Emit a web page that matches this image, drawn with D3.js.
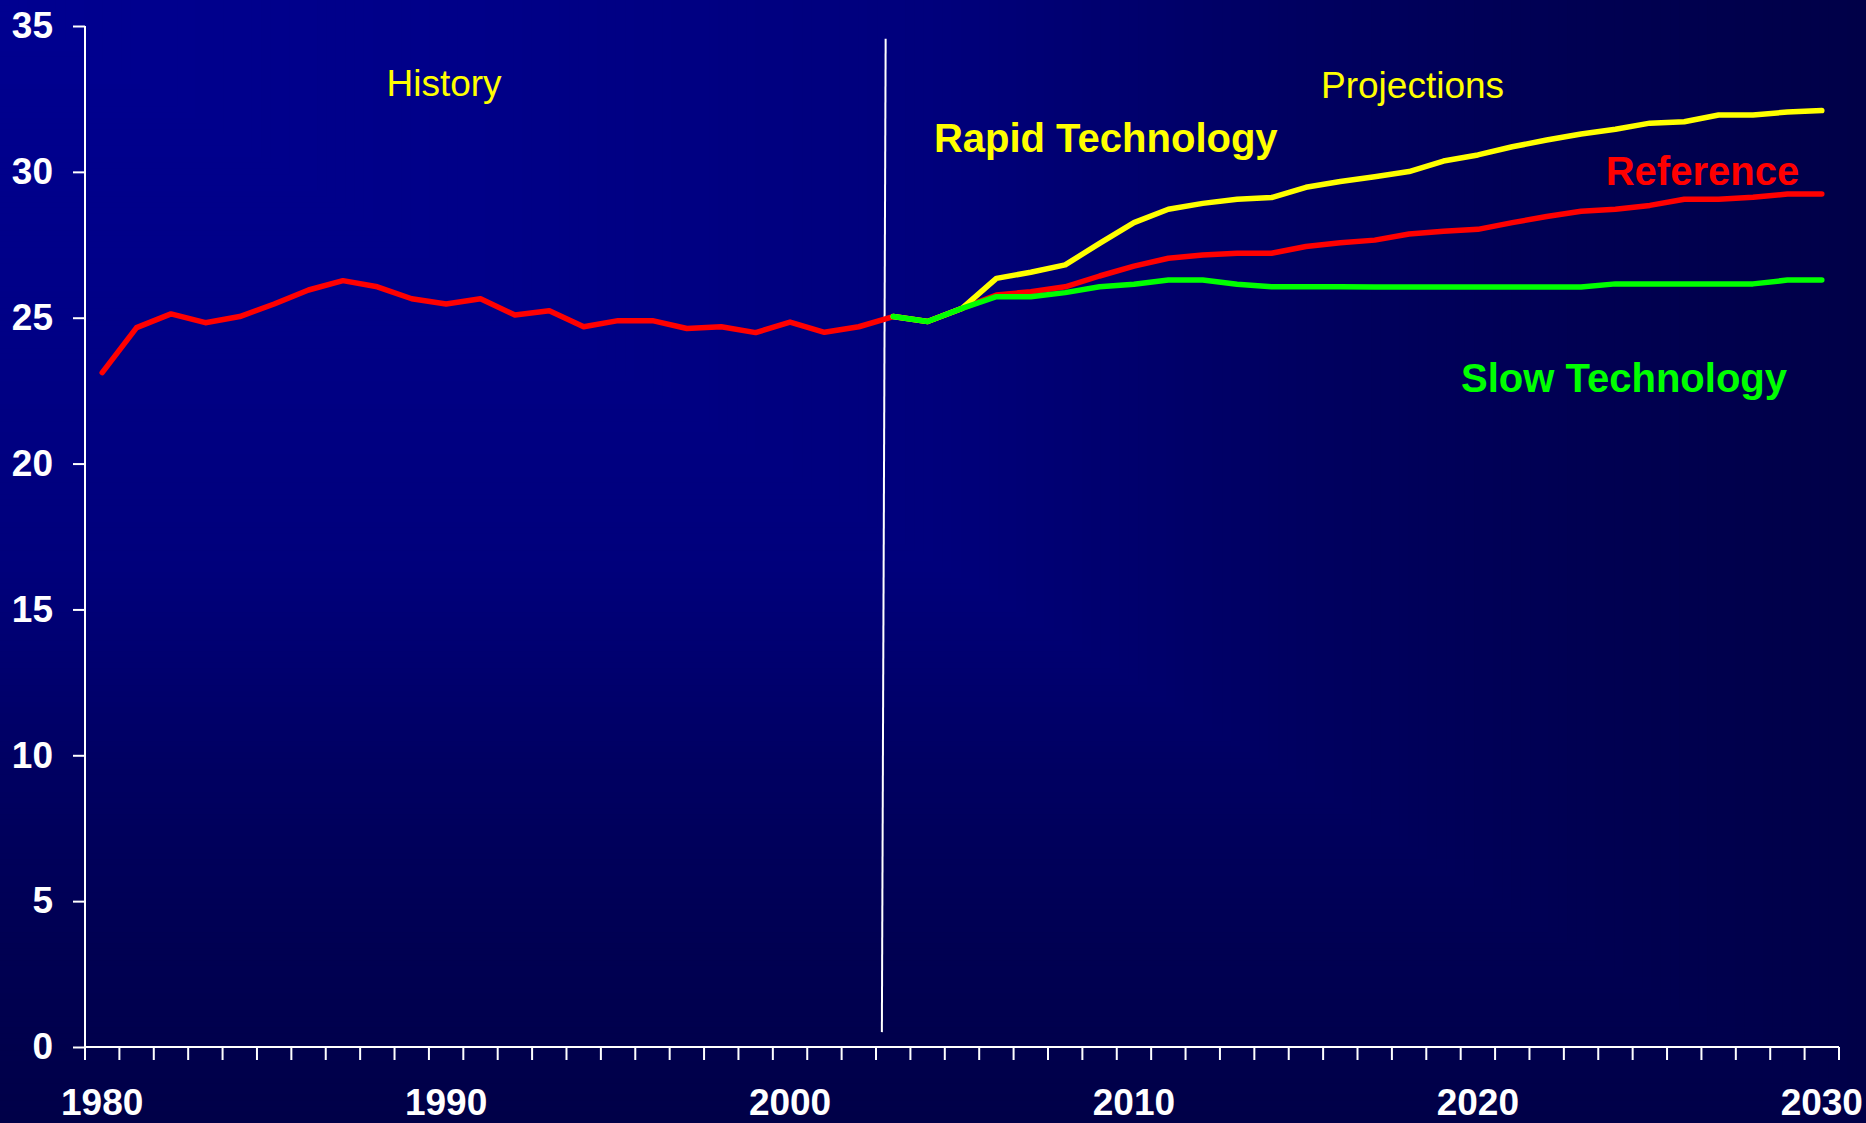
<!DOCTYPE html>
<html>
<head>
<meta charset="utf-8">
<script src="https://cdn.jsdelivr.net/npm/d3@7"></script>
<style>
  html, body { margin: 0; padding: 0; background: #000060; }
  svg { display: block; }
  text { font-family: "Liberation Sans", Arial, Helvetica, sans-serif; }
</style>
</head>
<body>
<svg id="chart" width="1866" height="1123"></svg>
<script>
// ---------- data ----------
const years = [1980,1981,1982,1983,1984,1985,1986,1987,1988,1989,
               1990,1991,1992,1993,1994,1995,1996,1997,1998,1999,
               2000,2001,2002,2003,2004,2005,2006,2007,2008,2009,
               2010,2011,2012,2013,2014,2015,2016,2017,2018,2019,
               2020,2021,2022,2023,2024,2025,2026,2027,2028,2029,2030];

const referenceValues = [23.12,24.66,25.13,24.83,25.04,25.47,25.95,26.27,26.06,25.65,
                         25.47,25.65,25.09,25.24,24.69,24.90,24.90,24.63,24.69,24.49,
                         24.85,24.50,24.69,25.04,24.87,25.32,25.78,25.89,26.06,26.43,
                         26.77,27.04,27.15,27.21,27.21,27.44,27.57,27.66,27.87,27.96,
                         28.03,28.26,28.47,28.65,28.72,28.85,29.06,29.06,29.13,29.24,29.24];

const projectionYears = [2003,2004,2005,2006,2007,2008,2009,2010,2011,2012,2013,2014,2015,2016,
                         2017,2018,2019,2020,2021,2022,2023,2024,2025,2026,2027,2028,2029,2030];

const rapidValues = [25.04,24.87,25.32,26.35,26.56,26.81,27.55,28.26,28.72,28.92,29.06,29.12,29.47,29.67,
                     29.83,30.01,30.37,30.58,30.86,31.09,31.30,31.46,31.67,31.72,31.95,31.95,32.05,32.10];

const slowValues = [25.04,24.87,25.32,25.72,25.72,25.86,26.06,26.15,26.29,26.29,26.15,26.06,26.06,26.06,
                    26.05,26.05,26.05,26.05,26.05,26.05,26.05,26.16,26.16,26.16,26.16,26.16,26.29,26.29];

const yTicks = [0,5,10,15,20,25,30,35];
const xTickLabels = [1980,1990,2000,2010,2020,2030];

const seriesNames = ["Reference","Rapid Technology","Slow Technology"];
const seriesColors = ["#ff0000","#ffff00","#00ff00"];

// annotation texts (year / value anchor)
const sectionLabels = ["History","Projections"];
const sectionYears = [1989.94, 2018.1];
const sectionValues = [32.6, 32.53];
const seriesLabelYears = [2026.53, 2009.18, 2024.25];
const seriesLabelValues = [29.55, 30.68, 22.45];

const dividerYears = [2002.78, 2002.67];
const dividerValues = [34.56, 0.51];

// ---------- layout ----------
const W = 1866, H = 1123;
const margin = {left: 85, right: 27, top: 26, bottom: 76};
const svg = d3.select("#chart");

// background: rectangular gradient from top-left corner
const bgColor = d3.scaleLinear()
  .domain([0, 0.25, 0.5, 0.7, 0.85, 1])
  .range(["#000090","#000088","#00007c","#000060","#000052","#000048"]);
const bgSteps = d3.range(1, 0, -0.005);
svg.append("g").selectAll("rect").data(bgSteps).join("rect")
  .attr("x", 0).attr("y", 0)
  .attr("width", d => d * W).attr("height", d => d * H)
  .attr("fill", d => bgColor(d));

const xBand = d3.scaleBand().domain(years).range([margin.left, W - margin.right]).padding(0);
const bw = xBand.bandwidth();
const x = d3.scaleLinear().domain([1980, 2030]).range([xBand(1980) + bw / 2, xBand(2030) + bw / 2]);
const y = d3.scaleLinear().domain([0, 35]).range([H - margin.bottom, margin.top]);

// axes
const axisColor = "#ffffff";
// y axis
const yAxis = svg.append("g").attr("transform", `translate(${margin.left},0)`)
  .call(d3.axisLeft(y).tickValues(yTicks).tickSize(12).tickPadding(20).tickFormat(d3.format("d")));
yAxis.select(".domain").attr("stroke", axisColor).attr("stroke-width", 2).attr("d", `M0,${y(35)}V${y(0)}`);
yAxis.selectAll(".tick line").attr("stroke", axisColor).attr("stroke-width", 2);
yAxis.selectAll(".tick text").attr("fill", "#ffffff").attr("font-size", 37).attr("font-weight", "bold")
  .attr("font-family", '"Liberation Sans", Arial, sans-serif');

// x axis: ticks at category boundaries
const xAxisG = svg.append("g").attr("transform", `translate(0,${y(0)})`);
xAxisG.append("line").attr("x1", margin.left).attr("x2", W - margin.right)
  .attr("y1", 0).attr("y2", 0).attr("stroke", axisColor).attr("stroke-width", 2);
const boundaries = years.map(d => xBand(d)).concat([xBand(2030) + bw]);
xAxisG.selectAll("line.tk").data(boundaries).join("line").attr("class", "tk")
  .attr("x1", d => d).attr("x2", d => d).attr("y1", 0).attr("y2", 13)
  .attr("stroke", axisColor).attr("stroke-width", 2);
xAxisG.selectAll("text").data(xTickLabels).join("text")
  .attr("x", d => x(d)).attr("y", 68)
  .attr("text-anchor", "middle").attr("fill", "#ffffff")
  .attr("font-size", 37).attr("font-weight", "bold").text(d => d);

// divider
svg.append("line")
  .attr("x1", x(dividerYears[0])).attr("y1", y(dividerValues[0]))
  .attr("x2", x(dividerYears[1])).attr("y2", y(dividerValues[1]))
  .attr("stroke", "#ffffff").attr("stroke-width", 2);

// lines
const line = d3.line().x(d => x(d[0])).y(d => y(d[1]));
const seriesData = [
  years.map((yr, i) => [yr, referenceValues[i]]),
  projectionYears.map((yr, i) => [yr, rapidValues[i]]),
  projectionYears.map((yr, i) => [yr, slowValues[i]])
];
svg.append("g").selectAll("path").data(seriesData).join("path")
  .attr("d", d => line(d))
  .attr("fill", "none")
  .attr("stroke", (d, i) => seriesColors[i])
  .attr("stroke-width", 5.5)
  .attr("stroke-linejoin", "round")
  .attr("stroke-linecap", "round");

// section labels
svg.append("g").selectAll("text").data(sectionLabels).join("text")
  .attr("x", (d, i) => x(sectionYears[i])).attr("y", (d, i) => y(sectionValues[i]))
  .attr("text-anchor", "middle").attr("fill", "#ffff00").attr("font-size", 37)
  .text(d => d);

// series labels
svg.append("g").selectAll("text").data(seriesNames).join("text")
  .attr("x", (d, i) => x(seriesLabelYears[i])).attr("y", (d, i) => y(seriesLabelValues[i]))
  .attr("text-anchor", "middle").attr("fill", (d, i) => seriesColors[i])
  .attr("font-size", 40).attr("font-weight", "bold")
  .text(d => d);
</script>
</body>
</html>
